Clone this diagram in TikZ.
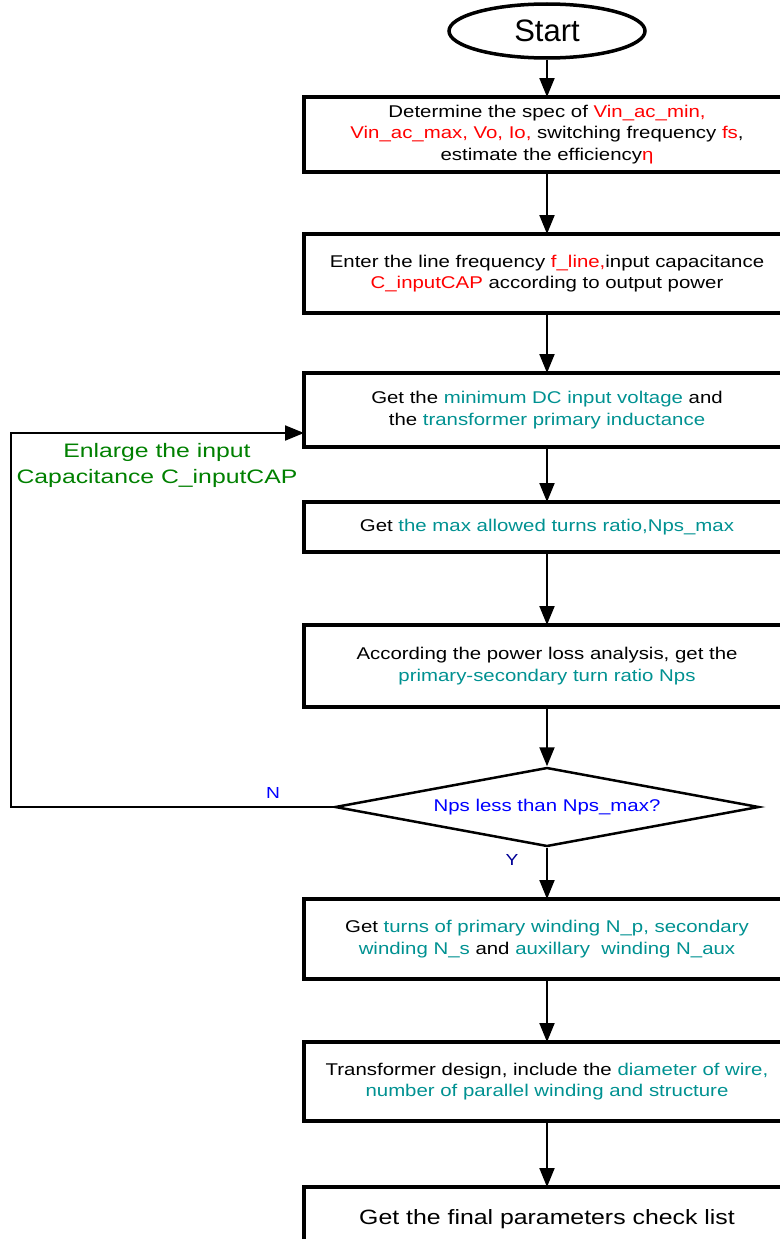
\documentclass[tikz,border=0pt]{standalone}
\usepackage{fontspec}
\setmainfont{Liberation Sans}
\newfontfamily\bodyf[FakeStretch=1.2]{Liberation Sans}
\newfontfamily\greenf[FakeStretch=1.27]{Liberation Sans}
\usetikzlibrary{shapes.geometric,arrows.meta}
\definecolor{cred}{RGB}{255,0,0}
\definecolor{cteal}{RGB}{0,145,145}
\definecolor{cgreen}{RGB}{0,128,0}
\definecolor{cblue}{RGB}{0,0,255}
\definecolor{cnavy}{RGB}{0,0,150}
\newcommand{\R}[1]{\textcolor{cred}{#1}}
\newcommand{\T}[1]{\textcolor{cteal}{#1}}
\tikzset{
  box/.style={draw, line width=3.5pt, rectangle, minimum width=486pt, inner sep=0pt, outer sep=0pt, align=center,
    font=\bodyf\fontsize{17}{21.5}\selectfont},
  arr/.style={line width=2pt, -{Triangle[length=19pt,width=15pt]}},
  lbl/.style={font=\bodyf\fontsize{16}{19}\selectfont},
}
\begin{document}
\begin{tikzpicture}[x=1pt,y=-1pt]
\useasboundingbox (0,0) rectangle (779,1239);
\node[draw, ellipse, line width=3.5pt, minimum width=196pt, minimum height=54pt, inner sep=0pt,
  font=\fontsize{31}{34}\selectfont] (start) at (547,31) {Start};
\node[box, minimum height=75pt] (b1) at (547,134.5) {Determine the spec of \R{Vin\_ac\_min,}\\
  \R{Vin\_ac\_max, Vo, Io,} switching frequency \R{fs},\\
  estimate the efficiency\R{η}};
\node[box, minimum height=79pt] (b2) at (547,273.5) {Enter the line frequency \R{f\_line,}input capacitance\\
  \R{C\_inputCAP} according to output power};
\node[box, minimum height=74pt] (b3) at (547,410) {Get the \T{minimum DC input voltage} and\\
  the \T{transformer primary inductance}};
\node[box, minimum height=50pt] (b4) at (547,527) {Get \T{the max allowed turns ratio,Nps\_max}};
\node[box, minimum height=82pt] (b5) at (547,666) {According the power loss analysis, get the\\
  \T{primary-secondary turn ratio Nps}};
\node[draw, diamond, line width=2.5pt, minimum width=424pt, minimum height=79pt, inner sep=0pt, aspect=5.4,
  font=\bodyf\fontsize{17}{21.5}\selectfont, text=cblue] (dia) at (547,807) {Nps less than Nps\_max?};
\node[box, minimum height=80pt] (b6) at (547,939) {Get \T{turns of primary winding N\_p, secondary}\\
  \T{winding N\_s} and \T{auxillary\ \ winding N\_aux}};
\node[box, minimum height=79pt] (b7) at (547,1081.5) {Transformer design, include the \T{diameter of wire,}\\
  \T{number of parallel winding and structure}};
\node[box, minimum height=64pt, font=\bodyf\fontsize{20.7}{24}\selectfont] (b8) at (547,1219) {Get the final parameters check list};
\node[align=center, text=cgreen, font=\greenf\fontsize{19.5}{26}\selectfont] (enl) at (157,465) {Enlarge the input\\Capacitance C\_inputCAP};
\node[lbl, text=cblue] (nl) at (273,793) {N};
\node[lbl, text=cnavy] (yl) at (512,860) {Y};
\coordinate (lp) at (11,433);
\draw[arr] (start) -- (b1);
\draw[arr] (b1) -- (b2);
\draw[arr] (b2) -- (b3);
\draw[arr] (b3) -- (b4);
\draw[arr] (b4) -- (b5);
\draw[arr] (b5) -- (dia);
\draw[arr] (dia) -- (b6);
\draw[arr] (b6) -- (b7);
\draw[arr] (b7) -- (b8);
\draw[arr] (dia.west) -- (dia.west -| lp) -- (lp) -- (lp -| b3.west);
\end{tikzpicture}
\end{document}
